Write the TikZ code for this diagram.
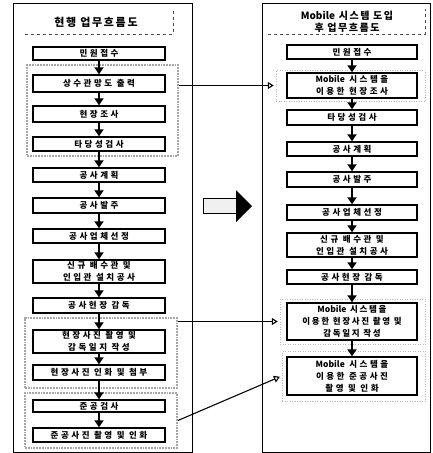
\documentclass[tikz,border=0pt]{standalone}
\usepackage{fontspec}
\setmainfont{Noto Sans CJK KR}
\newfontfamily\krbox{Noto Sans CJK KR}[LetterSpace=30]
\newfontfamily\krboxn{Noto Sans CJK KR}[LetterSpace=20]
\newfontfamily\krplain{Noto Sans CJK KR}
\newfontfamily\krtitle{Noto Sans CJK KR}[LetterSpace=15]
\newcommand{\mob}{{\krplain Mobile}}
\usetikzlibrary{arrows.meta}
\begin{document}
\begin{tikzpicture}[x=1pt,y=-1pt,
  fbox/.style={draw, line width=1.4pt, fill=white, inner sep=0pt, align=center,
    font={\krbox\bfseries\fontsize{8.5}{12}\selectfont}},
  lbox/.style={fbox, minimum width=132pt},
  rbox/.style={fbox, minimum width=130pt},
  grp/.style={draw=gray!70, line width=1.8pt, densely dotted, inner sep=0pt, rectangle},
  rgrp/.style={draw=gray!55, line width=0.5pt, dotted, inner sep=0pt, rectangle},
  conn/.style={line width=1.8pt, -{Triangle[width=9pt,length=7pt]}},
  cross/.style={line width=1.1pt, -{Triangle[open,width=7pt,length=6pt]}, shorten >=2pt},
  frame/.style={draw, line width=0.9pt, inner sep=0pt, rectangle},
  tdash/.style={dashed, line width=0.6pt, gray!60!black},
  ttl/.style={inner sep=0pt, align=center}
]
\useasboundingbox (0,0) rectangle (432,453);

% frames
\node[frame, minimum width=179pt, minimum height=449pt] (lf) at (102.5,227.5) {};
\node[frame, minimum width=168pt, minimum height=449pt] (rf) at (346,227.5) {};

% titles
\node[ttl, font={\krtitle\bfseries\fontsize{11}{13}\selectfont}] (lt) at (96,22) {현행 업무흐름도};
\draw[tdash] (25,34) -- (173,34) -- (173,10);
\node[ttl, font={\krtitle\bfseries\fontsize{10}{12}\selectfont}] (rt) at (347,22) {\mob{} 시스템 도입\\후 업무흐름도};
\draw[tdash] (268,34) -- (425,34) -- (425,9);

% groups (left)
\node[grp, minimum width=151pt, minimum height=91pt] (g1) at (102.5,110.5) {};
\node[grp, minimum width=152pt, minimum height=70pt] (g2) at (101,353) {};
\node[grp, minimum width=152pt, minimum height=55pt] (g3) at (101,420.5) {};
% groups (right)
\node[rgrp, minimum width=149pt, minimum height=31pt] (rg1) at (350.5,85.5) {};
\node[rgrp, minimum width=145pt, minimum height=45pt] (rg2) at (352.5,321.5) {};
\node[rgrp, minimum width=143pt, minimum height=50pt] (rg3) at (353.5,376) {};

% left boxes
\node[lbox, minimum height=13pt] (l1) at (99,53.5) {민원접수};
\node[lbox, minimum height=17pt] (l2) at (99,83.5) {상수관망도 출력};
\node[lbox, minimum height=16pt] (l3) at (99,114) {현장조사};
\node[lbox, minimum height=14pt] (l4) at (99,144) {타당성검사};
\node[lbox, minimum height=14pt] (l5) at (99,175) {공사계획};
\node[lbox, minimum height=15pt] (l6) at (99,205.5) {공사발주};
\node[lbox, minimum height=14pt] (l7) at (99,236) {공사업체선정};
\node[lbox, minimum height=23pt] (l8) at (99,271.5) {신규 배수관 및\\인입관 설치공사};
\node[lbox, minimum height=15pt] (l9) at (99,305.5) {공사현장 감독};
\node[lbox, minimum height=23pt] (l10) at (99,341.5) {현장사진 촬영 및\\감독일지 작성};
\node[lbox, minimum height=15pt] (l11) at (99,372.5) {현장사진 인화 및 첨부};
\node[lbox, minimum height=12pt] (l12) at (99,406) {준공검사};
\node[lbox, minimum height=14pt] (l13) at (99,435) {준공사진 촬영 및 인화};

% right boxes
\node[rbox, minimum height=14pt] (r1) at (352,52) {민원접수};
\node[rbox, minimum height=25pt] (r2) at (352,85.5) {\mob{} 시스템을\\이용한 현장조사};
\node[rbox, minimum height=15pt] (r3) at (352,117.5) {타당성검사};
\node[rbox, minimum height=14pt] (r4) at (352,149) {공사계획};
\node[rbox, minimum height=15pt] (r5) at (352,179.5) {공사발주};
\node[rbox, minimum height=15pt] (r6) at (352,212.5) {공사업체선정};
\node[rbox, minimum height=24pt] (r7) at (352,245) {신규 배수관 및\\인입관 설치공사};
\node[rbox, minimum height=14pt] (r8) at (352,277) {공사현장 감독};
\node[rbox, minimum height=37pt, font={\krboxn\bfseries\fontsize{8.5}{12}\selectfont}] (r9) at (352,321.5) {\mob{} 시스템을\\이용한 현장사진 촬영 및\\감독일지 작성};
\node[rbox, minimum height=38pt] (r10) at (352,376) {\mob{} 시스템을\\이용한 준공사진\\촬영 및 인화};

% left connectors
\foreach \a/\b in {l1/l2,l2/l3,l3/l4,l4/l5,l5/l6,l6/l7,l7/l8,l8/l9,l9/l10,l10/l11,l11/l12,l12/l13}
  \draw[conn] (\a) -- (\b);
% right connectors
\foreach \a/\b in {r1/r2,r2/r3,r3/r4,r4/r5,r5/r6,r6/r7,r7/r8,r8/r9,r9/r10}
  \draw[conn] (\a) -- (\b);

% cross connectors
\draw[cross] (g1.east |- rg1.west) -- (rg1.west);
\draw[cross] (g2.east |- rg2.west) -- (rg2.west);
\draw[cross] (g3.east) -- (rg3.west);

% big block arrow
\draw[line width=0.8pt, fill=gray!12] (203,198) rectangle (237,213);
\fill[black] (236,190) -- (252,206) -- (236,222) -- cycle;
\end{tikzpicture}
\end{document}
